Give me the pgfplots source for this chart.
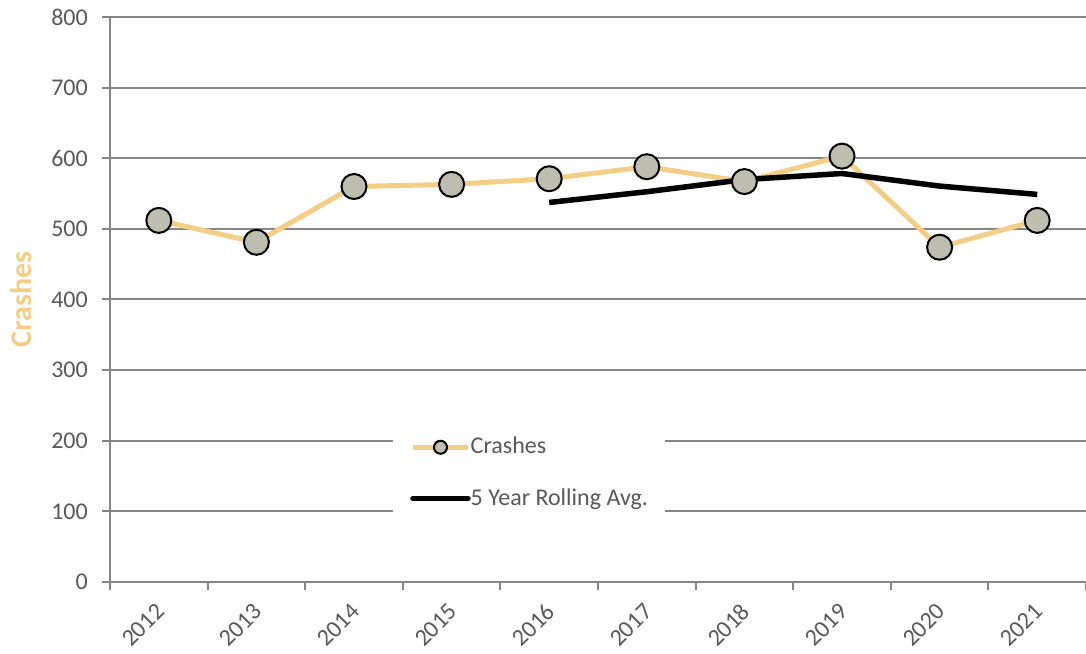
\documentclass[border=0pt]{standalone}
\usepackage{pgfplots}
\pgfplotsset{compat=1.18}
\usepackage{fontspec}
\setmainfont{Carlito}
\definecolor{crash}{RGB}{245,206,133}
\definecolor{mfill}{RGB}{190,190,176}
\definecolor{gridc}{RGB}{134,134,134}
\definecolor{tickc}{RGB}{89,89,89}
\begin{document}
\begin{tikzpicture}
\fontsize{24bp}{28bp}\selectfont
\begin{axis}[
  at={(0,0)}, anchor=south west,
  scale only axis, width=976bp, height=565bp,
  xmin=-0.5, xmax=9.5, ymin=0, ymax=800,
  axis x line*=bottom, axis y line*=left,
  axis line style={gridc, line width=2bp, -},
  ytick={0,100,...,800},
  ymajorgrids, major grid style={gridc, line width=2bp},
  xtick={0,...,9},
  xticklabels={2012,2013,2014,2015,2016,2017,2018,2019,2020,2021},
  minor xtick={-0.5,0.5,...,9.5},
  major x tick style={draw=none},
  minor x tick style={gridc, line width=2bp},
  y tick style={gridc, line width=2bp},
  tick align=outside,
  major tick length=8bp, minor tick length=8bp,
  /pgf/number format/assume math mode=true,
  tick label style={font=\fontsize{24bp}{28bp}\selectfont, text=tickc},
  yticklabel style={inner sep=0pt, anchor=east, xshift=-14bp},
  xticklabel style={inner sep=0pt, rotate=45, anchor=east, xshift=-11.4bp, yshift=-13.6bp},
  ylabel={Crashes},
  ylabel style={at={(axis description cs:-0.0912,0.5)}, anchor=center, rotate=0,
    font=\fontsize{30bp}{34bp}\selectfont\bfseries, text=crash, inner sep=0pt},
  legend style={at={(0.29,0.278)}, anchor=north west, draw=none, fill=white,
    font=\fontsize{24bp}{28bp}\selectfont, text=tickc,
    inner xsep=17bp, inner ysep=12bp, row sep=31bp,
    nodes={inner sep=0pt, anchor=west}},
  legend cell align=left,
  clip=false,
]
\addplot[crash, line width=5bp, mark=*, mark size=12.5bp,
  mark options={fill=mfill, draw=black, line width=2bp},
  legend image code/.code={
    \draw[crash, line width=5bp] (0bp,0bp) -- (55bp,0bp);
    \draw[black, fill=mfill, line width=2bp] (27.5bp,0bp) circle (6.5bp);
  }]
  coordinates {(0,512) (1,481) (2,560) (3,563) (4,571) (5,588) (6,567) (7,603) (8,474) (9,512)};
\addlegendentry{Crashes}
\addplot[black, line width=5.5bp, no markers,
  legend image code/.code={
    \draw[black, line width=5.5bp, line cap=round] (0bp,0bp) -- (55bp,0bp);
  }]
  coordinates {(4,537.4) (5,552.6) (6,569.8) (7,578.4) (8,560.6) (9,548.8)};
\addlegendentry{5 Year Rolling Avg.}
\end{axis}
\pgfresetboundingbox
\path[use as bounding box] (-110bp,-72bp) rectangle (976bp,582bp);
\end{tikzpicture}
\end{document}
